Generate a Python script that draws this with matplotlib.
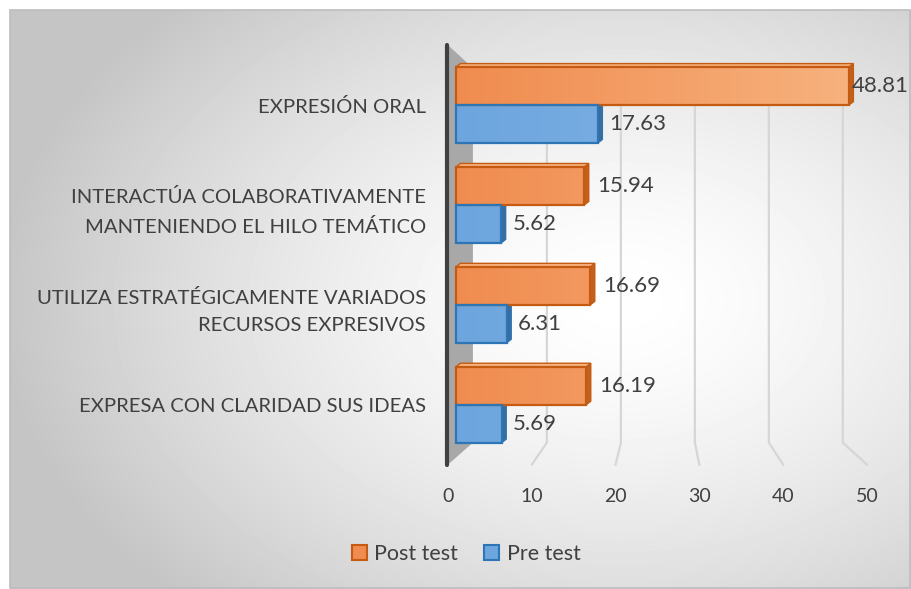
import matplotlib.pyplot as plt
import numpy as np
from matplotlib.patches import Polygon, Rectangle, Patch
from matplotlib.colors import to_rgb

plt.rcParams['font.family'] = ['Lato', 'DejaVu Sans']

# data (top to bottom)
categories = ["EXPRESIÓN ORAL",
              "INTERACTÚA COLABORATIVAMENTE\nMANTENIENDO EL HILO TEMÁTICO",
              "UTILIZA ESTRATÉGICAMENTE VARIADOS\nRECURSOS EXPRESIVOS",
              "EXPRESA CON CLARIDAD SUS IDEAS"]
post_test = [48.81, 15.94, 16.69, 16.19]
pre_test = [17.63, 5.62, 6.31, 5.69]
ticks = [0, 10, 20, 30, 40, 50]

orange = "#F08C50"
orange_light = "#F7B27E"
orange_edge = "#C55A11"
orange_side = "#C2611F"
blue = "#6DA5DE"
blue_light = "#86B8E6"
blue_edge = "#2E75B6"
blue_side = "#3A6C9C"
text_col = "#404040"

W, H = 911, 589
fig = plt.figure(figsize=(W / 100, H / 100), dpi=100)

# background with grey radial gradient
bg = fig.add_axes([0, 0, 1, 1])
bg.set_xlim(0, W)
bg.set_ylim(H, 0)
bg.axis('off')
xx, yy = np.meshgrid(np.arange(10, W), np.arange(10, H))
d = np.sqrt(((xx - 620) / 620.0) ** 2 + ((yy - 300) / 420.0) ** 2)
shade = 255 - 58 * np.clip(d, 0, 1) ** 1.5
bg.imshow(shade / 255.0, cmap='gray', vmin=0, vmax=1,
          extent=(10, W, H, 10), aspect='auto', zorder=0)
bg.add_patch(Rectangle((10, 10), W - 11, H - 11, fill=False,
                       edgecolor="#BDBDBD", lw=1.2, zorder=1))

# main axes (pixel box 430..890 x 40..470)
ax = fig.add_axes([430 / W, 1 - 470 / H, 460 / W, 430 / H])
ax.set_facecolor('none')
for s in ax.spines.values():
    s.set_visible(False)
ax.set_xticks([])

y = np.arange(len(categories))
bh = 0.38
y_top, y_floor, y_front = -0.6, 3.38, 3.6


def back(t):
    return 2.1 + 0.919 * t


def front(t):
    return -1.0 + 1.041 * t


# side wall
ax.add_patch(Polygon([(-1.0, y_top), (back(0), -0.37), (back(0), y_floor),
                      (-1.0, y_front)], closed=True, facecolor="#A8A8A8",
                     edgecolor='none', zorder=1))
ax.plot([-1.12, -1.12], [y_top, y_front], color=text_col, lw=3,
        solid_capstyle='round', zorder=2)

# gridlines bent onto the floor
for t in ticks[1:]:
    ax.plot([back(t), back(t), front(t)], [-0.4, y_floor, y_front],
            color="#D6D6D6", lw=1.6, zorder=2)
for t in ticks:
    ax.text(front(t), 3.92, str(t), ha='center', va='center', fontsize=14,
            color=text_col, clip_on=False)


def bar3d(v, yc, c0, c1, edge, side):
    y0, y1 = yc - bh / 2, yc + bh / 2
    dx, dy = 0.55, 0.035
    ax.add_patch(Polygon([(v, y0), (v + dx, y0 - dy), (v + dx, y1 - dy), (v, y1)],
                         closed=True, facecolor=side, edgecolor=edge, lw=1, zorder=3))
    ax.add_patch(Polygon([(0, y0), (dx, y0 - dy), (v + dx, y0 - dy), (v, y0)],
                         closed=True, facecolor=c1, edgecolor=edge, lw=1, zorder=3))
    rect = Rectangle((0, y0), v, bh, facecolor='none', edgecolor=edge,
                     lw=1.6, zorder=5)
    ax.add_patch(rect)
    frac = np.linspace(0, v / 50.0, 64)
    a, b = np.array(to_rgb(c0)), np.array(to_rgb(c1))
    img = a[None, None, :] + (b - a)[None, None, :] * frac[None, :, None]
    im = ax.imshow(img, extent=(0, v, y1, y0), aspect='auto', zorder=4,
                   interpolation='bilinear')
    im.set_clip_path(rect)


for i in range(len(categories)):
    yo = y[i] - bh / 2
    yb = y[i] + bh / 2
    bar3d(post_test[i], yo, orange, orange_light, orange_edge, orange_side)
    bar3d(pre_test[i], yb, blue, blue_light, blue_edge, blue_side)
    ax.text(post_test[i] + 1.6 if i else post_test[i] + 0.4, yo,
            f"{post_test[i]:.2f}", ha='left', va='center', fontsize=16,
            color=text_col, zorder=6, clip_on=False)
    ax.text(pre_test[i] + 1.4, yb, f"{pre_test[i]:.2f}", ha='left',
            va='center', fontsize=16, color=text_col, zorder=6, clip_on=False)

ax.set_xlim(-3.23, 53.91)
ax.set_ylim(3.654, -0.651)
ax.set_yticks(y)
ax.set_yticklabels(categories, fontsize=14.6, color=text_col,
                   linespacing=1.75, ha='right')
ax.tick_params(axis='y', length=0, pad=3)

handles = [Patch(facecolor=orange, edgecolor=orange_edge, lw=1.5, label="Post test"),
           Patch(facecolor=blue, edgecolor=blue_edge, lw=1.5, label="Pre test")]
fig.legend(handles=handles, loc='center', bbox_to_anchor=(466 / W, 1 - 554 / H),
           ncol=2, frameon=False, fontsize=15.5, handlelength=0.7,
           handleheight=0.7, handletextpad=0.35, columnspacing=1.2,
           labelcolor=text_col)

fig.savefig("out.png", dpi=100)
